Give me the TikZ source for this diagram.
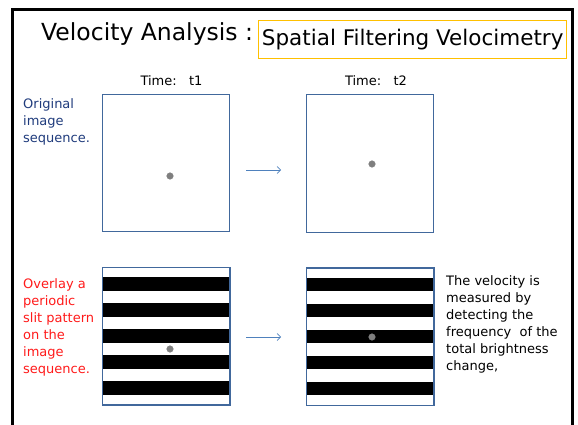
\documentclass[tikz,border=0pt]{standalone}
\usepackage{fontspec}
\setmainfont{DejaVu Sans}
\usetikzlibrary{positioning,arrows.meta}
\definecolor{boxblue}{HTML}{41689C}
\definecolor{arrowblue}{HTML}{4F81BD}
\definecolor{navytext}{HTML}{1F3B7C}
\definecolor{redtext}{HTML}{FF1A1A}
\definecolor{titlebox}{HTML}{FFC000}
\definecolor{dotgray}{HTML}{7F7F7F}
\tikzset{
  imgbox/.style={draw=boxblue, line width=1pt, minimum width=127pt, minimum height=137pt, inner sep=0pt},
  smalltext/.style={font=\fontsize{13}{17}\selectfont, align=left, inner sep=0pt},
  moveto/.style={draw=arrowblue, line width=0.7pt, -{Straight Barb[length=3.5pt,width=7pt]}}
}
\newcommand\slitpattern[1]{
  \foreach \k in {0,...,4}
  {
    \fill[black] ([xshift=0.5pt,yshift=-10pt-\k*26pt]#1.north west) rectangle ++(126,13.5);
  }
}

\begin{document}
\begin{tikzpicture}[x=1pt, y=-1pt]
\useasboundingbox (0,0) rectangle (578,425);
\draw[line width=2.6pt] (12.3,425) -- (12.3,9.3) -- (572.5,9.3) -- (572.5,425);

\node[anchor=base west, inner sep=0pt, font=\fontsize{23.5}{28}\selectfont] (title) at (41,41) {Velocity Analysis :};
\node[draw=titlebox, line width=1.2pt, anchor=north west, minimum width=307pt, minimum height=38pt,
  font=\fontsize{21.5}{26}\selectfont] (method) at (258,20) {Spatial Filtering Velocimetry};

\node[anchor=base, inner sep=0pt, font=\fontsize{13}{17}\selectfont] (time1) at (171.5,86) {Time:~~~t1};
\node[anchor=base, inner sep=0pt, font=\fontsize{13}{17}\selectfont] (time2) at (376,86) {Time:~~~t2};

% original images
\node[imgbox] (orig1) at (166,163) {};
\node[imgbox] (orig2) at (370,163.5) {};
\filldraw[dotgray] (170,176) circle [radius=3.3];
\filldraw[dotgray] (372,164) circle [radius=3.3];
\coordinate (a1) at (246,170);
\coordinate (b1) at (281,170);
\draw[moveto] (a1) -- (b1);
\node[smalltext, text=navytext, anchor=north west] (origtext) at (23,98) {Original\\image\\sequence.};

% with slits
\node (slit1) [imgbox] at (166,336) {};
\node (slit2) [imgbox] at (370,336.5) {};
\slitpattern{slit1}
\slitpattern{slit2}
\draw[boxblue, line width=1pt] (slit1.north west) rectangle (slit1.south east);
\draw[boxblue, line width=1pt] (slit2.north west) rectangle (slit2.south east);
\filldraw[dotgray] (170,349) circle [radius=3.3];
\filldraw[dotgray] (372,337) circle [radius=3.3];
\coordinate (a2) at (246,337);
\coordinate (b2) at (281,337);
\draw[moveto] (a2) -- (b2);
\node[smalltext, text=redtext, anchor=north west] (slittext) at (23,278) {Overlay a\\periodic\\slit pattern\\on the\\image\\sequence.};
\node[smalltext, anchor=north west] (result) at (446,275) {The velocity is\\measured by\\detecting the\\frequency~ of the\\total brightness\\change,};
\end{tikzpicture}
\end{document}
